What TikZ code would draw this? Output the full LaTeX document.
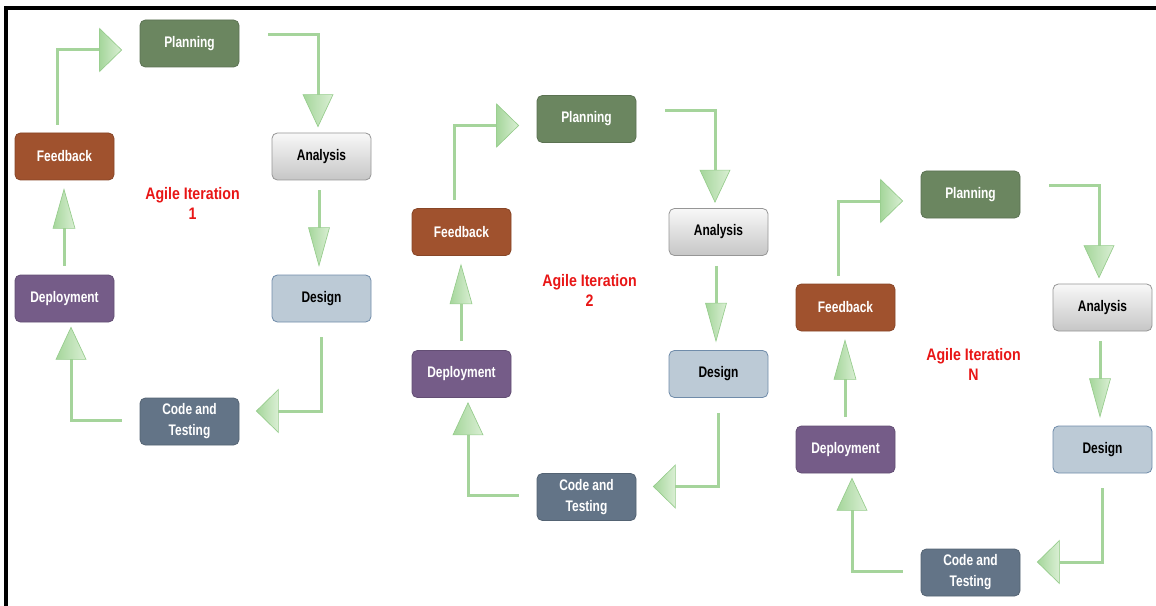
\documentclass[tikz,border=0pt]{standalone}
\usepackage{fontspec}
\setmainfont{Liberation Sans}[FakeStretch=0.78]
\newfontfamily\labelfamily{Liberation Sans}[FakeStretch=0.85]
\usetikzlibrary{calc}

\definecolor{planfill}{RGB}{107,134,96}
\definecolor{feedfill}{RGB}{160,82,46}
\definecolor{deployfill}{RGB}{117,92,136}
\definecolor{codefill}{RGB}{99,116,135}
\definecolor{designfill}{RGB}{188,202,214}
\definecolor{designedge}{RGB}{112,140,170}
\definecolor{anatop}{RGB}{248,248,248}
\definecolor{anabottom}{RGB}{198,198,198}
\definecolor{anaedge}{RGB}{150,150,150}
\definecolor{flowline}{RGB}{165,212,155}
\definecolor{headedge}{RGB}{150,204,140}
\definecolor{headdark}{RGB}{165,214,155}
\definecolor{headlight}{RGB}{218,239,212}
\definecolor{itred}{RGB}{232,22,22}

\tikzset{
  stage/.style={rounded corners=4pt, minimum width=74.25pt, minimum height=35.25pt,
    inner sep=0pt, align=center, line width=0.6pt,
    font=\bfseries\fontsize{11.5}{15.75}\selectfont},
  darkstage/.style={stage, text=white, fill=#1, draw=#1!85!black},
  flow/.style={draw=flowline, line width=2.25pt, line join=miter},
  head/.style={draw=headedge, line width=0.5pt, left color=headdark, right color=headlight},
  itlabel/.style={text=itred, align=center,
    font=\labelfamily\bfseries\fontsize{12.5}{15}\selectfont},
  frameline/.style={draw=black, line width=3pt}
}

% arrow heads: #1 tip, #2 length, #3 half width
\newcommand\headR[3]{\path[head] #1 -- ($#1+(-#2,-#3)$) -- ($#1+(-#2,#3)$) -- cycle;}
\newcommand\headL[3]{\path[head] #1 -- ($#1+(#2,-#3)$) -- ($#1+(#2,#3)$) -- cycle;}
\newcommand\headD[3]{\path[head] #1 -- ($#1+(-#3,-#2)$) -- ($#1+(#3,-#2)$) -- cycle;}
\newcommand\headU[3]{\path[head] #1 -- ($#1+(-#3,#2)$) -- ($#1+(#3,#2)$) -- cycle;}

\begin{document}
\begin{tikzpicture}[x=0.75pt, y=-0.75pt]
\useasboundingbox (0,0) rectangle (1156,606);

% frame edges
\coordinate (frameTL) at (6,8);
\coordinate (frameTR) at (1156,8);
\coordinate (frameBL) at (6,606);
\draw[frameline] (frameBL) -- (frameTL) -- (frameTR);

\foreach \dx/\dy/\ly/\num/\s in {0/0/0/1/a, 397/75.5/87/2/b, 781/151/161/N/c}{
  \begin{scope}[shift={(\dx,\dy)}]
    \node[darkstage=planfill] (pl\s) at (189.5,43.5) {Planning};
    \node[stage, top color=anatop, bottom color=anabottom, draw=anaedge] (an\s) at (321.5,156.5) {Analysis};
    \node[stage, fill=designfill, draw=designedge] (de\s) at (321.5,298.5) {Design};
    \node[darkstage=codefill] (ct\s) at (189.5,421.5) {Code and\\Testing};
    \node[darkstage=deployfill] (dp\s) at (64.5,298.5) {Deployment};
    \node[darkstage=feedfill] (fb\s) at (64.5,156.5) {Feedback};
  \end{scope}
  \node[itlabel] (it\s) at (192.5+\dx, 203+\ly) {Agile Iteration\\\num};

  % tips of the arrow heads
  \coordinate (tA\s) at ($(pl\s.west)+(-18,6.5)$);
  \coordinate (tB\s) at ($(an\s.north)+(-3.5,-6)$);
  \coordinate (tC\s) at ($(de\s.north)+(-2.5,-9)$);
  \coordinate (tD\s) at ($(ct\s.east)+(17,-10.5)$);
  \coordinate (tE\s) at ($(dp\s.south)+(6.5,5)$);
  \coordinate (tF\s) at ($(fb\s.south)+(-0.5,9)$);

  % Feedback -> Planning
  \draw[flow] ($(fb\s.north)+(-7.5,-8)$) |- ($(tA\s)+(-22,0)$);
  \headR{(tA\s)}{22}{21.5}
  % Planning -> Analysis
  \draw[flow] ($(pl\s.east)+(29,-8.5)$) -| ($(tB\s)+(0,-32)$);
  \headD{(tB\s)}{32}{15}
  % Analysis -> Design
  \draw[flow] ($(an\s.south)+(-2.5,10)$) -- ($(tC\s)+(0,-38)$);
  \headD{(tC\s)}{38}{10.5}
  % Design -> Code and Testing
  \draw[flow] ($(de\s.south)+(-0.5,15)$) |- ($(tD\s)+(22,0)$);
  \headL{(tD\s)}{22}{21.5}
  % Code and Testing -> Deployment
  \draw[flow] ($(ct\s.west)+(-18,-1.5)$) -| ($(tE\s)+(0,32)$);
  \headU{(tE\s)}{32}{15}
  % Deployment -> Feedback
  \draw[flow] ($(dp\s.north)+(-0.5,-9)$) -- ($(tF\s)+(0,39)$);
  \headU{(tF\s)}{39}{11}
}
\end{tikzpicture}
\end{document}
